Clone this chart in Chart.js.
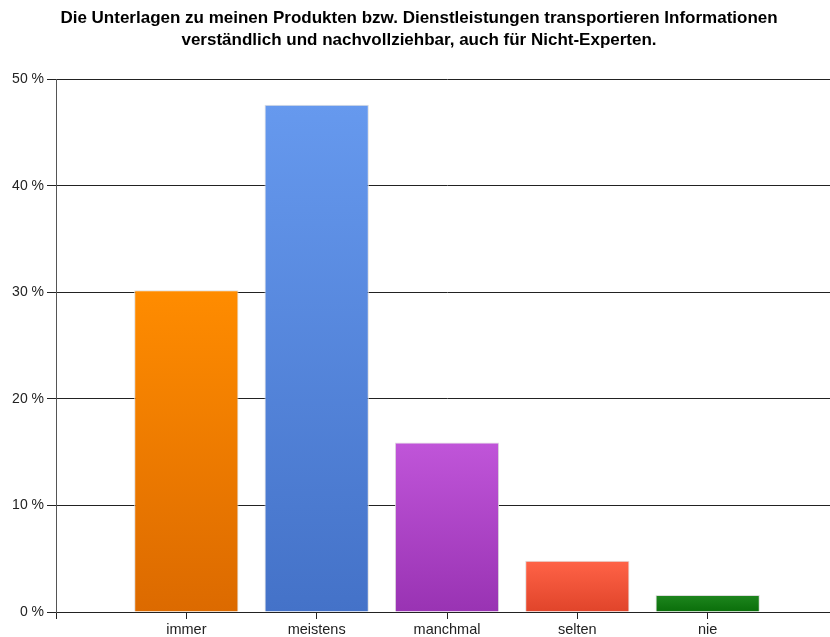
<!DOCTYPE html>
<html>
<head>
<meta charset="utf-8">
<script src="https://cdn.jsdelivr.net/npm/chart.js@4"></script>
<style>
  html, body { margin: 0; padding: 0; background: #fff; overflow: hidden; }
  #wrap { width: 840px; height: 637px; }
</style>
</head>
<body>
<div id="wrap"><canvas id="chart"></canvas></div>
<script>
const categories = ["immer", "meistens", "manchmal", "selten", "nie"];
const percents = [30.2, 47.6, 15.9, 4.8, 1.6];
const topColors = ["#ff8c00", "#6699ee", "#c055d9", "#ff6347", "#1e861e"];
const bottomColors = ["#dc6a00", "#4472c8", "#9933b3", "#e0442a", "#0a6e0a"];
const titleLines = [
  "Die Unterlagen zu meinen Produkten bzw. Dienstleistungen transportieren Informationen",
  "verständlich und nachvollziehbar, auch für Nicht-Experten."
];

// empty slot on each side, like the original axis
const labels = [""].concat(categories, [""]);
const values = [null].concat(percents, [null]);
const tops = [null].concat(topColors, [null]);
const bottoms = [null].concat(bottomColors, [null]);

Chart.defaults.font.family = "'Liberation Sans', Arial, sans-serif";
Chart.defaults.color = "#222";

function barGradient(ctx) {
  const chart = ctx.chart;
  const i = ctx.dataIndex;
  if (!chart.chartArea || values[i] == null) return tops[i] || "transparent";
  const y = chart.scales.y;
  const g = chart.ctx.createLinearGradient(0, y.getPixelForValue(values[i]), 0, y.getPixelForValue(0));
  g.addColorStop(0, tops[i]);
  g.addColorStop(1, bottoms[i]);
  return g;
}

new Chart(document.getElementById("chart"), {
  type: "bar",
  data: {
    labels: labels,
    datasets: [{
      data: values,
      backgroundColor: barGradient,
      borderColor: "#dddddd",
      borderWidth: 1,
      categoryPercentage: 0.8,
      barPercentage: 1
    }]
  },
  options: {
    responsive: true,
    maintainAspectRatio: false,
    animation: false,
    layout: { padding: { left: 0, right: 2, top: 0, bottom: 0 } },
    plugins: {
      legend: { display: false },
      tooltip: { enabled: false },
      title: {
        display: true,
        text: titleLines,
        color: "#000",
        font: { size: 17, weight: "bold", lineHeight: 1.3 },
        padding: { top: 7, bottom: 28 }
      }
    },
    scales: {
      x: {
        offset: false,
        grid: { display: true, offset: false, drawOnChartArea: false, drawTicks: true, tickLength: 7, color: "#222" },
        border: { color: "#222", width: 1 },
        ticks: { font: { size: 14.5 }, color: "#222", padding: 2, maxRotation: 0 },
        afterFit: s => { s.height = 25; }
      },
      y: {
        min: 0,
        max: 50,
        grid: { color: "#222", tickLength: 9 },
        border: { color: "#555", width: 1 },
        ticks: {
          stepSize: 10,
          font: { size: 14 },
          color: "#222",
          padding: 3,
          callback: v => v + " %"
        },
        afterFit: s => { s.width = 56; }
      }
    }
  }
});
</script>
</body>
</html>
